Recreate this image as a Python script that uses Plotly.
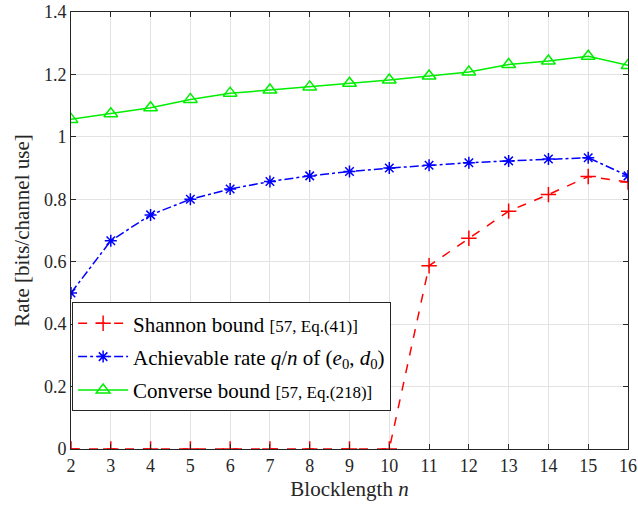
import plotly.graph_objects as go

blocklength = list(range(2, 17))
shannon = [0, 0, 0, 0, 0, 0, 0, 0, 0, 0.587, 0.675, 0.762, 0.815, 0.873, 0.855]
achievable = [0.5, 0.667, 0.75, 0.8, 0.833, 0.857, 0.875, 0.889, 0.9, 0.909, 0.917, 0.923, 0.929, 0.933, 0.875]
converse = [1.056, 1.074, 1.093, 1.12, 1.14, 1.15, 1.16, 1.172, 1.182, 1.195, 1.208, 1.232, 1.243, 1.258, 1.229]
y_ticks = [0, 0.2, 0.4, 0.6, 0.8, 1.0, 1.2, 1.4]
y_tick_labels = ["0", "0.2", "0.4", "0.6", "0.8", "1", "1.2", "1.4"]

FONT = "Liberation Serif"
SMALL = '<span style="font-size:17px">%s</span>'

fig = go.Figure()
fig.add_trace(go.Scatter(
    x=blocklength, y=shannon, mode="lines+markers",
    name="Shannon bound " + SMALL % "[57, Eq.(41)]", legendgroup="a",
    line=dict(color="#ff0000", dash="dash", width=1.5),
    marker=dict(symbol="cross-thin", size=11, line=dict(color="#ff0000", width=1.5)),
))
fig.add_trace(go.Scatter(
    x=blocklength, y=achievable, mode="lines+markers",
    name="Achievable rate <i>q</i>/<i>n</i> of (<i>e</i><sub>0</sub>, <i>d</i><sub>0</sub>)", legendgroup="b",
    line=dict(color="#0000ff", dash="dashdot", width=1.5),
    marker=dict(symbol="asterisk-open", size=10, line=dict(color="#0000ff", width=1.5)),
))
fig.add_trace(go.Scatter(
    x=blocklength, y=converse, mode="lines+markers",
    name="Converse bound " + SMALL % "[57, Eq.(218)]", legendgroup="c",
    line=dict(color="#00ee00", dash="solid", width=1.5),
    marker=dict(symbol="triangle-up-open", size=12, line=dict(color="#00ee00", width=1.5)),
))

fig.update_layout(
    width=638, height=508,
    margin=dict(l=71, r=10, t=12, b=59),
    paper_bgcolor="white", plot_bgcolor="white",
    font=dict(family=FONT, size=18, color="#262626"),
    showlegend=True,
    legend=dict(
        x=0.002, y=0.336, xanchor="left", yanchor="top",
        bgcolor="white", bordercolor="#262626", borderwidth=1,
        font=dict(family=FONT, size=21, color="#000000"),
        tracegroupgap=3, itemwidth=50,
    ),
)
fig.update_xaxes(
    range=[2, 16], tickmode="array", tickvals=blocklength,
    showgrid=True, gridcolor="#e3e3e3", gridwidth=1,
    showline=True, linecolor="#262626", linewidth=1, mirror="ticks",
    ticks="inside", ticklen=5, tickcolor="#262626",
    zeroline=False, automargin=False,
    tickfont=dict(family=FONT, size=18),
    title=dict(text="Blocklength <i>n</i>", font=dict(family=FONT, size=21), standoff=6),
)
fig.update_yaxes(
    range=[0, 1.4], tickmode="array", tickvals=y_ticks, ticktext=y_tick_labels,
    showgrid=True, gridcolor="#e3e3e3", gridwidth=1,
    showline=True, linecolor="#262626", linewidth=1, mirror="ticks",
    ticks="inside", ticklen=5, tickcolor="#262626",
    zeroline=False, automargin=False,
    tickfont=dict(family=FONT, size=18),
    title=dict(text="Rate [bits/channel use]", font=dict(family=FONT, size=21), standoff=8),
)

fig.write_html(
    "out.html",
    config={"displayModeBar": False},
    post_script="document.body.style.margin='0';document.body.style.overflow='hidden';",
)
